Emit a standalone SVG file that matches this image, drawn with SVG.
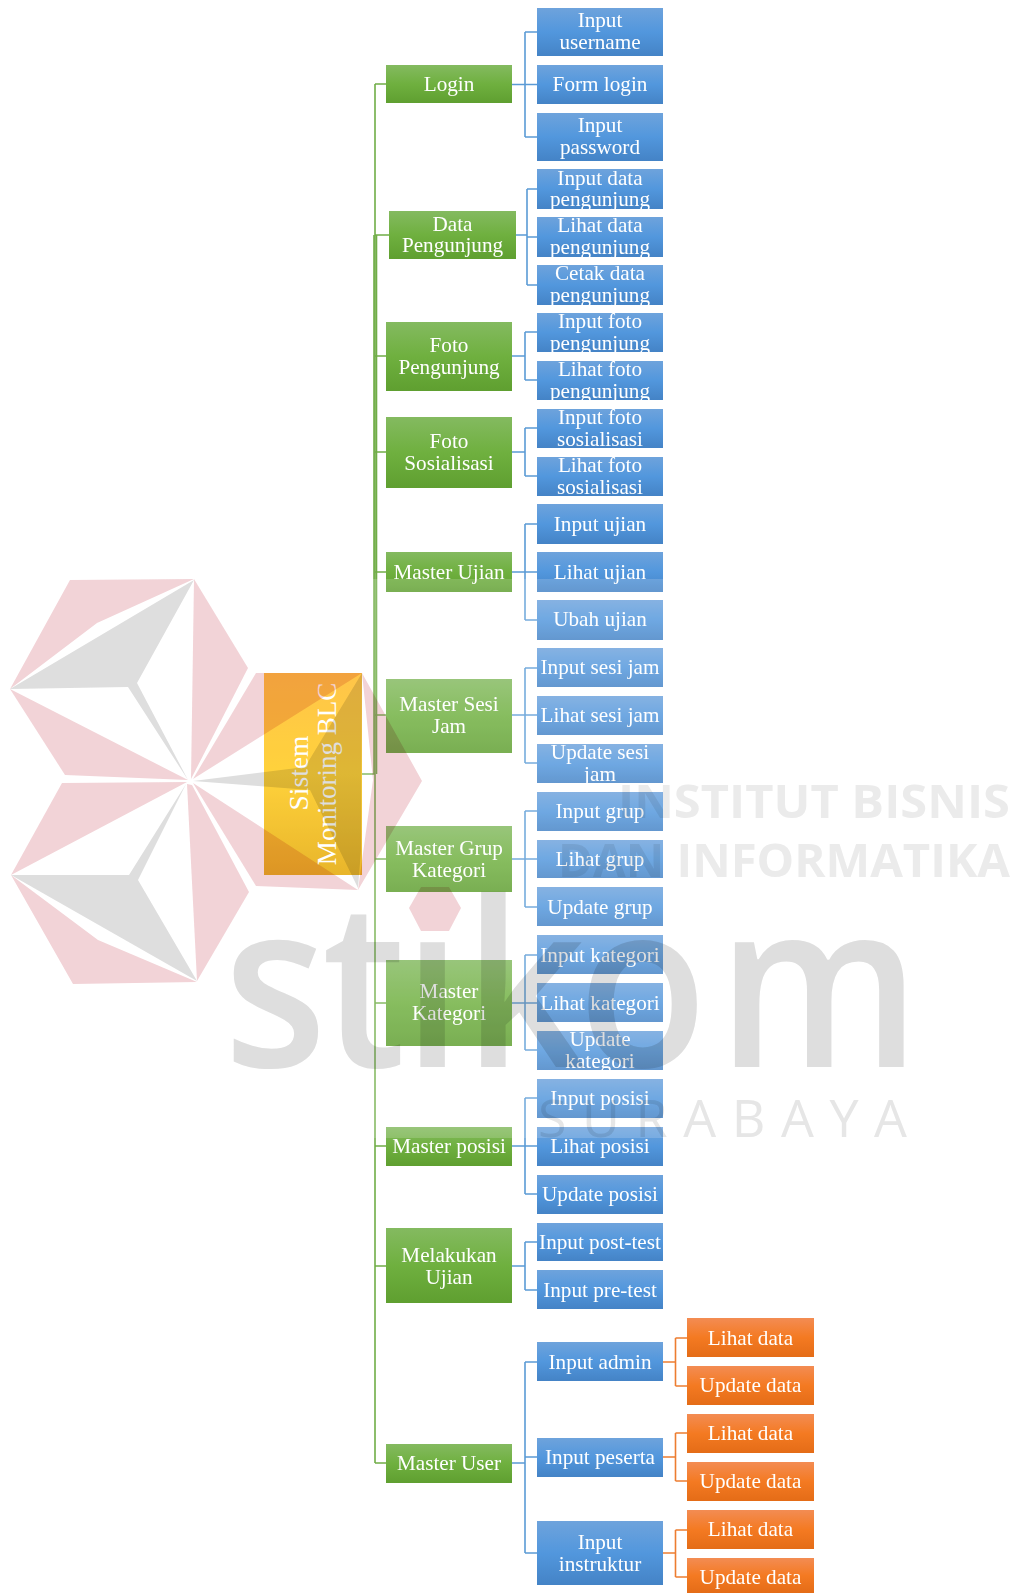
<svg xmlns="http://www.w3.org/2000/svg" width="1014" height="1593" viewBox="0 0 1014 1593">
<style>
.g{fill:url(#gg)}.b{fill:url(#gb)}.o{fill:url(#go)}
text{font-family:"Liberation Serif","Times New Roman",serif;font-size:21.200px;fill:#fff;text-anchor:middle}
.cg,.cb,.co{fill:none;stroke-width:1.6}.cg{stroke:#70ad47}.cb{stroke:#5b9bd5}.co{stroke:#ed7d31}
.wm{mix-blend-mode:multiply}
.pk{fill:#f2d3d7}.gy{fill:#dedede}
.wt{font-family:"Open Sans","DejaVu Sans",sans-serif;text-anchor:start}
</style>
<defs>
<linearGradient id="gg" x1="0" y1="0" x2="0" y2="1"><stop offset="0" stop-color="#84ba60"/><stop offset=".5" stop-color="#6fb03f"/><stop offset="1" stop-color="#5f9f30"/></linearGradient>
<linearGradient id="gb" x1="0" y1="0" x2="0" y2="1"><stop offset="0" stop-color="#6ea3dc"/><stop offset=".5" stop-color="#5297dd"/><stop offset="1" stop-color="#4483c6"/></linearGradient>
<linearGradient id="go" x1="0" y1="0" x2="0" y2="1"><stop offset="0" stop-color="#f38c53"/><stop offset=".5" stop-color="#f47a22"/><stop offset="1" stop-color="#e46c17"/></linearGradient>
<linearGradient id="gy" x1="0" y1="0" x2="0" y2="1"><stop offset="0" stop-color="#ffb925"/><stop offset=".5" stop-color="#ffc914"/><stop offset="1" stop-color="#e4a700"/></linearGradient>
<clipPath id="c1"><rect x="537" y="169" width="126" height="40"/></clipPath>
<clipPath id="c2"><rect x="537" y="217" width="126" height="40"/></clipPath>
<clipPath id="c3"><rect x="537" y="265" width="126" height="40"/></clipPath>
<clipPath id="c4"><rect x="537" y="313" width="126" height="39"/></clipPath>
<clipPath id="c5"><rect x="537" y="361" width="126" height="39"/></clipPath>
<clipPath id="c6"><rect x="537" y="744" width="126" height="39"/></clipPath>
<clipPath id="c7"><rect x="537" y="1031" width="126" height="39"/></clipPath>
<clipPath id="c8"><rect x="687" y="1558" width="127" height="35"/></clipPath>
</defs>
<g id="connectors">
<path class="cg" d="M362,774H375M375,84V1463M375,84H386M375,235H389M375,356H386M375,452H386M375,572H386M375,715H386M375,859H386M375,1003H386M375,1146H386M375,1266H386M375,1463H386"/>
<path class="cg" d="M374,235V774M376.500,235V774" stroke-width="1"/>
<path class="cb" d="M512,84.500H525M525,32H537M525,84.500H537M525,137H537M525,32V137"/>
<path class="cb" d="M516,235H527M527,189H537M527,237H537M527,285H537M527,189V285"/>
<path class="cb" d="M512,356H525M525,332H537M525,380H537M525,332V380"/>
<path class="cb" d="M512,452H525M525,428H537M525,476H537M525,428V476"/>
<path class="cb" d="M512,572H525M525,524H537M525,572H537M525,620H537M525,524V620"/>
<path class="cb" d="M512,715H525M525,668H537M525,715H537M525,763H537M525,668V763"/>
<path class="cb" d="M512,859H525M525,811H537M525,859H537M525,907H537M525,811V907"/>
<path class="cb" d="M512,1003H525M525,955H537M525,1003H537M525,1050H537M525,955V1050"/>
<path class="cb" d="M512,1146H525M525,1098H537M525,1146H537M525,1194H537M525,1098V1194"/>
<path class="cb" d="M512,1266H525M525,1242H537M525,1290H537M525,1242V1290"/>
<path class="cb" d="M512,1463H525M525,1362H537M525,1457H537M525,1553H537M525,1362V1553"/>
<path class="co" d="M663,1362H675.500M675.500,1338H687M675.500,1386H687M675.500,1338V1386"/>
<path class="co" d="M663,1457H675.500M675.500,1433H687M675.500,1481H687M675.500,1433V1481"/>
<path class="co" d="M663,1553H675.500M675.500,1530H687M675.500,1577H687M675.500,1530V1577"/>
</g>
<g id="root"><rect x="264" y="673" width="98" height="202" fill="url(#gy)"/><text transform="translate(308,773) rotate(-90)" style="font-size:27.500px">Sistem</text><text transform="translate(336,774) rotate(-90)" style="font-size:27px">Monitoring BLC</text></g>
<g id="n-login"><rect class="g" x="386" y="65" width="126" height="38"/><text x="449" y="91">Login</text></g>
<g id="n-data-pengunjung"><rect class="g" x="389" y="211" width="127" height="48"/><text x="452.500" y="231">Data</text><text x="452.500" y="252">Pengunjung</text></g>
<g id="n-foto-pengunjung"><rect class="g" x="386" y="322" width="126" height="69"/><text x="449" y="352">Foto</text><text x="449" y="374">Pengunjung</text></g>
<g id="n-foto-sosialisasi"><rect class="g" x="386" y="417" width="126" height="71"/><text x="449" y="448">Foto</text><text x="449" y="470">Sosialisasi</text></g>
<g id="n-master-ujian"><rect class="g" x="386" y="552" width="126" height="40"/><text x="449" y="579">Master Ujian</text></g>
<g id="n-master-sesi"><rect class="g" x="386" y="679" width="126" height="74"/><text x="449" y="711">Master Sesi</text><text x="449" y="733">Jam</text></g>
<g id="n-master-grup"><rect class="g" x="386" y="826" width="126" height="66"/><text x="449" y="855">Master Grup</text><text x="449" y="877">Kategori</text></g>
<g id="n-master-kategori"><rect class="g" x="386" y="960" width="126" height="86"/><text x="449" y="998">Master</text><text x="449" y="1020">Kategori</text></g>
<g id="n-master-posisi"><rect class="g" x="386" y="1127" width="126" height="39"/><text x="449" y="1153">Master posisi</text></g>
<g id="n-melakukan"><rect class="g" x="386" y="1228" width="126" height="75"/><text x="449" y="1262">Melakukan</text><text x="449" y="1284">Ujian</text></g>
<g id="n-master-user"><rect class="g" x="386" y="1444" width="126" height="39"/><text x="449" y="1470">Master User</text></g>
<g id="n-input-username"><rect class="b" x="537" y="8" width="126" height="48"/><text x="600" y="27">Input</text><text x="600" y="49">username</text></g>
<g id="n-form-login"><rect class="b" x="537" y="65" width="126" height="39"/><text x="600" y="91">Form login</text></g>
<g id="n-input-password"><rect class="b" x="537" y="113" width="126" height="48"/><text x="600" y="132">Input</text><text x="600" y="154">password</text></g>
<g id="n-input-data"><rect class="b" x="537" y="169" width="126" height="40"/><g clip-path="url(#c1)"><text x="600" y="185">Input data</text><text x="600" y="206">pengunjung</text></g></g>
<g id="n-lihat-data"><rect class="b" x="537" y="217" width="126" height="40"/><g clip-path="url(#c2)"><text x="600" y="232">Lihat data</text><text x="600" y="254">pengunjung</text></g></g>
<g id="n-cetak-data"><rect class="b" x="537" y="265" width="126" height="40"/><g clip-path="url(#c3)"><text x="600" y="280">Cetak data</text><text x="600" y="302">pengunjung</text></g></g>
<g id="n-input-foto"><rect class="b" x="537" y="313" width="126" height="39"/><g clip-path="url(#c4)"><text x="600" y="328">Input foto</text><text x="600" y="350">pengunjung</text></g></g>
<g id="n-lihat-foto"><rect class="b" x="537" y="361" width="126" height="39"/><g clip-path="url(#c5)"><text x="600" y="376">Lihat foto</text><text x="600" y="398">pengunjung</text></g></g>
<g id="n-input-foto-sos"><rect class="b" x="537" y="409" width="126" height="39"/><text x="600" y="424">Input foto</text><text x="600" y="446">sosialisasi</text></g>
<g id="n-lihat-foto-sos"><rect class="b" x="537" y="457" width="126" height="39"/><text x="600" y="472">Lihat foto</text><text x="600" y="494">sosialisasi</text></g>
<g id="n-input-ujian"><rect class="b" x="537" y="504" width="126" height="40"/><text x="600" y="531">Input ujian</text></g>
<g id="n-lihat-ujian"><rect class="b" x="537" y="552" width="126" height="40"/><text x="600" y="579">Lihat ujian</text></g>
<g id="n-ubah-ujian"><rect class="b" x="537" y="600" width="126" height="40"/><text x="600" y="626">Ubah ujian</text></g>
<g id="n-input-sesi"><rect class="b" x="537" y="648" width="126" height="39"/><text x="600" y="674">Input sesi jam</text></g>
<g id="n-lihat-sesi"><rect class="b" x="537" y="696" width="126" height="39"/><text x="600" y="722">Lihat sesi jam</text></g>
<g id="n-update-sesi"><rect class="b" x="537" y="744" width="126" height="39"/><g clip-path="url(#c6)"><text x="600" y="759">Update sesi</text><text x="600" y="781">jam</text></g></g>
<g id="n-input-grup"><rect class="b" x="537" y="792" width="126" height="39"/><text x="600" y="818">Input grup</text></g>
<g id="n-lihat-grup"><rect class="b" x="537" y="840" width="126" height="38"/><text x="600" y="866">Lihat grup</text></g>
<g id="n-update-grup"><rect class="b" x="537" y="887" width="126" height="39"/><text x="600" y="914">Update grup</text></g>
<g id="n-input-kategori"><rect class="b" x="537" y="935" width="126" height="39"/><text x="600" y="962">Input kategori</text></g>
<g id="n-lihat-kategori"><rect class="b" x="537" y="983" width="126" height="39"/><text x="600" y="1010">Lihat kategori</text></g>
<g id="n-update-kategori"><rect class="b" x="537" y="1031" width="126" height="39"/><g clip-path="url(#c7)"><text x="600" y="1046">Update</text><text x="600" y="1068">kategori</text></g></g>
<g id="n-input-posisi"><rect class="b" x="537" y="1079" width="126" height="39"/><text x="600" y="1105">Input posisi</text></g>
<g id="n-lihat-posisi"><rect class="b" x="537" y="1127" width="126" height="39"/><text x="600" y="1153">Lihat posisi</text></g>
<g id="n-update-posisi"><rect class="b" x="537" y="1175" width="126" height="39"/><text x="600" y="1201">Update posisi</text></g>
<g id="n-input-post"><rect class="b" x="537" y="1223" width="126" height="38"/><text x="600" y="1249">Input post-test</text></g>
<g id="n-input-pre"><rect class="b" x="537" y="1270" width="126" height="39"/><text x="600" y="1297">Input pre-test</text></g>
<g id="n-input-admin"><rect class="b" x="537" y="1342" width="126" height="39"/><text x="600" y="1369">Input admin</text></g>
<g id="n-input-peserta"><rect class="b" x="537" y="1438" width="126" height="39"/><text x="600" y="1464">Input peserta</text></g>
<g id="n-input-instruktur"><rect class="b" x="537" y="1521" width="126" height="64"/><text x="600" y="1549">Input</text><text x="600" y="1571">instruktur</text></g>
<g id="n-lihat-1"><rect class="o" x="687" y="1318" width="127" height="39"/><text x="750.500" y="1345">Lihat data</text></g>
<g id="n-update-1"><rect class="o" x="687" y="1366" width="127" height="39"/><text x="750.500" y="1392">Update data</text></g>
<g id="n-lihat-2"><rect class="o" x="687" y="1414" width="127" height="39"/><text x="750.500" y="1440">Lihat data</text></g>
<g id="n-update-2"><rect class="o" x="687" y="1462" width="127" height="39"/><text x="750.500" y="1488">Update data</text></g>
<g id="n-lihat-3"><rect class="o" x="687" y="1510" width="127" height="39"/><text x="750.500" y="1536">Lihat data</text></g>
<g id="n-update-3"><rect class="o" x="687" y="1558" width="127" height="35"/><g clip-path="url(#c8)"><text x="750.500" y="1584">Update data</text></g></g>
<rect id="watermark-veil" x="0" y="579" width="1014" height="559" fill="#fff" opacity=".17"/>
<g id="watermark" class="wm">
<polygon class="pk" points="70,580 194,579 97,623 10,689"/>
<polygon class="gy" points="10,689 194,580 137,683 188,780 128,687"/>
<polygon class="pk" points="194,579 248,668 191,779"/>
<polygon class="pk" points="10,689 188,780 65,775"/>
<polygon class="pk" points="62,783 187,782 11,875"/>
<polygon class="gy" points="11,875 129,875 186,784 138,880 197,981"/>
<polygon class="pk" points="187,784 197,981 249,892 192,785"/>
<polygon class="pk" points="11,875 98,940 197,982 73,984"/>
<polygon class="pk" points="256,673 362,673 193,779"/>
<polygon class="gy" points="362,673 305,767 193,781 310,790 358,888 361,850"/>
<polygon class="pk" points="362,673 422,781 358,890 373,780"/>
<polygon class="pk" points="193,783 358,890 256,886"/>
<text class="wt gy" transform="translate(0,1067) scale(.92,1)" x="243 350 438 504 628 780" y="0" style="font-size:231px;font-weight:600">stikom</text>
<polygon class="pk" points="409,908 421,887 449,887 461,908 449,931 421,931"/>
<text class="wt" x="618" y="818" textLength="392" lengthAdjust="spacingAndGlyphs" style="font-size:46px;font-weight:700;fill:#ebebeb">INSTITUT BISNIS</text>
<text class="wt" x="558" y="877" textLength="452" lengthAdjust="spacingAndGlyphs" style="font-size:46px;font-weight:700;fill:#ebebeb">DAN INFORMATIKA</text>
<text class="wt" x="538" y="1137" textLength="369" style="font-size:52px;fill:#e6e6e6">SURABAYA</text>
</g>
</svg>
